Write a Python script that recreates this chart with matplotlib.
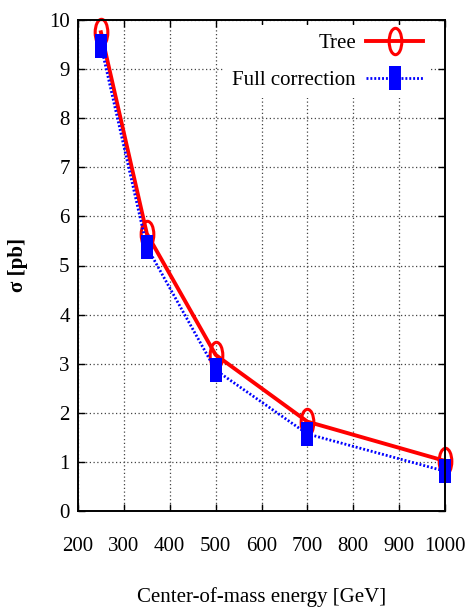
import matplotlib
matplotlib.use("Agg")
import matplotlib.pyplot as plt
from matplotlib.path import Path
from matplotlib.transforms import Affine2D

energy = [250, 350, 500, 700, 1000]
tree = [9.75, 5.65, 3.18, 1.82, 1.02]
full_corr = [9.48, 5.38, 2.87, 1.57, 0.81]
xticks = [200, 300, 400, 500, 600, 700, 800, 900, 1000]
yticks = [0, 1, 2, 3, 4, 5, 6, 7, 8, 9, 10]

plt.rcParams['font.family'] = ['Liberation Serif', 'DejaVu Serif']

# tall markers (the reference is vertically stretched)
ellipse = Path.unit_circle().transformed(Affine2D().scale(0.48, 1.0))
rect = Path([(-0.27, -0.5), (0.27, -0.5), (0.27, 0.5), (-0.27, 0.5), (-0.27, -0.5)],
            [Path.MOVETO, Path.LINETO, Path.LINETO, Path.LINETO, Path.CLOSEPOLY])

fig = plt.figure(figsize=(4.68, 6.14), dpi=100)
ax = fig.add_axes([78/468, 1-511/614, (445-78)/468, (511-20)/614])

ax.plot(energy, tree, color='#ff0000', lw=2.8, marker=ellipse, ms=19,
        mfc='none', mec='#ff0000', mew=2.2, label='Tree', zorder=3,
        clip_on=False)
ax.plot(energy, full_corr, color='#0000ff', lw=2.0, ls=(0, (0.7, 0.7)),
        marker=rect, ms=17, mfc='#0000ff', mec='#0000ff', mew=0,
        label='Full correction', zorder=4, clip_on=False)

ax.set_xlim(200, 1000)
ax.set_ylim(0, 10)
ax.set_xticks(xticks)
ax.set_yticks(yticks)
ax.grid(True, color='#444444', ls=(0, (1, 2)), lw=0.9)
ax.set_axisbelow(True)
for s in ax.spines.values():
    s.set_linewidth(1.4)
    s.set_zorder(5)
ax.tick_params(direction='in', top=True, right=True, length=5, width=1.0,
               labelsize=15)
ax.tick_params(axis='x', pad=19)
ax.tick_params(axis='y', pad=6)

ax.set_xlabel('Center-of-mass energy [GeV]', fontsize=15)
ax.xaxis.label.set_va('center')
ax.xaxis.set_label_coords(0.50, -0.175)
ax.set_ylabel('σ [pb]', fontsize=15, fontweight='bold')
ax.yaxis.label.set_va('center')
ax.yaxis.set_label_coords(-0.163, 0.50)

leg = ax.legend(loc='upper right', bbox_to_anchor=(0.962, 0.99),
                markerfirst=False, fontsize=15,
                frameon=True, fancybox=False, handlelength=2.7,
                borderaxespad=0.0, borderpad=0.4, labelspacing=0.85,
                handletextpad=0.5)
leg.get_frame().set_edgecolor('none')
leg.get_frame().set_facecolor('white')
leg.get_frame().set_alpha(1)

fig.savefig('out.png', dpi=100)
